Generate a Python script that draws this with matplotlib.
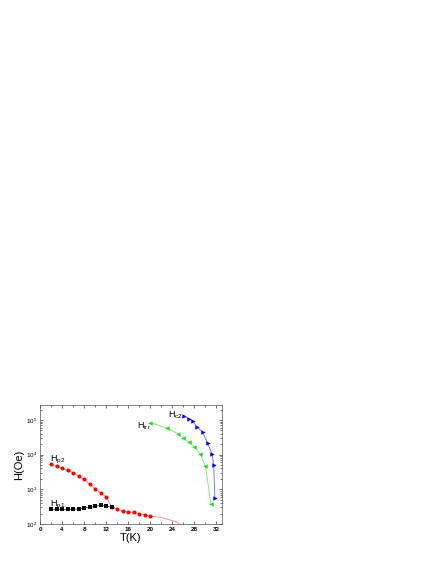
import matplotlib
matplotlib.use("Agg")
import matplotlib.pyplot as plt
from matplotlib.ticker import MultipleLocator, LogLocator, NullFormatter

plt.rcParams["font.family"] = ["Liberation Sans", "DejaVu Sans"]

# Hp2 (red circles)
t_p2 = [2, 3, 4, 5, 6, 7, 8, 9, 10, 11, 12, 13, 14, 15, 16, 17, 18, 19, 20]
h_p2 = [5200, 4600, 4000, 3500, 3000, 2400, 1930, 1390, 1050, 790, 600,
        310, 270, 240, 225, 215, 200, 185, 170]
# red tail without markers
t_tail = [20, 22, 24.7, 25.3, 26]
h_tail = [170, 155, 116, 100, 80]
# Hp1 (black squares)
t_p1 = [2, 3, 4, 5, 6, 7, 8, 9, 10, 11, 12, 13]
h_p1 = [263, 263, 263, 263, 265, 270, 293, 300, 320, 350, 335, 300]
# Hirr (green)
t_irr = [20.0, 23.1, 25.0, 25.9, 27.0, 27.9, 29.0, 30.0, 31.0]
h_irr = [83000, 58000, 40000, 31000, 23000, 17000, 10700, 4700, 370]
# Hc2 (blue)
t_c2 = [26.1, 27.0, 27.7, 28.5, 29.5, 30.4, 31.2, 31.5, 31.7]
h_c2 = [129000, 110000, 91000, 63000, 44000, 21000, 10500, 4900, 580]

fig = plt.figure(figsize=(4.36, 5.64), dpi=100)
ax = fig.add_axes([40 / 436, 1 - 524 / 564, 182 / 436, 119 / 564])

ax.plot(t_tail, h_tail, "-", color="#ff8080", lw=0.6)
ax.plot(t_p2, h_p2, "-", color="#ff7070", lw=0.6)
ax.plot(t_p2, h_p2, "o", color="#ff0000", ms=2.9, mew=0)
ax.plot(t_p1, h_p1, "-", color="#444444", lw=0.6)
ax.plot(t_p1, h_p1, "s", color="#000000", ms=2.6, mew=0)
ax.plot(t_irr, h_irr, "-", color="#66ee66", lw=0.6)
ax.plot(t_irr, h_irr, "<", color="#22dd22", ms=3.2, mew=0)
ax.plot(t_c2, h_c2, "-", color="#6666ff", lw=0.6)
ax.plot(t_c2, h_c2, ">", color="#0000ff", ms=3.2, mew=0)

ax.set_yscale("log")
ax.set_xlim(0, 33)
ax.set_ylim(100, 2.7e5)

ax.xaxis.set_major_locator(MultipleLocator(4))
ax.xaxis.set_minor_locator(MultipleLocator(2))
ax.yaxis.set_major_locator(LogLocator(base=10, numticks=10))
ax.yaxis.set_minor_locator(LogLocator(base=10, subs=range(2, 10), numticks=10))
ax.yaxis.set_minor_formatter(NullFormatter())
ax.tick_params(which="both", direction="in", top=True, right=True,
               width=0.4, labelsize=4.5, pad=2)
ax.tick_params(which="major", length=2.5)
ax.tick_params(which="minor", length=1.3)
for lab in ax.get_xticklabels():
    lab.set_fontweight("bold")
for s in ax.spines.values():
    s.set_linewidth(0.5)
    s.set_color("#555555")

ax.set_xlabel("T(K)", fontsize=8, labelpad=1)
ax.set_ylabel("H(Oe)", fontsize=8, labelpad=1)

ax.text(1.9, 6300, r"H$_{\mathregular{p2}}$", fontsize=6.5)
ax.text(1.9, 330, r"H$_{\mathregular{p1}}$", fontsize=6.5)
ax.text(17.5, 55000, r"H$_{\mathregular{irr}}$", fontsize=6.5)
ax.text(23.2, 120000, r"H$_{\mathregular{c2}}$", fontsize=6.5)

fig.savefig("out.png", dpi=100)
